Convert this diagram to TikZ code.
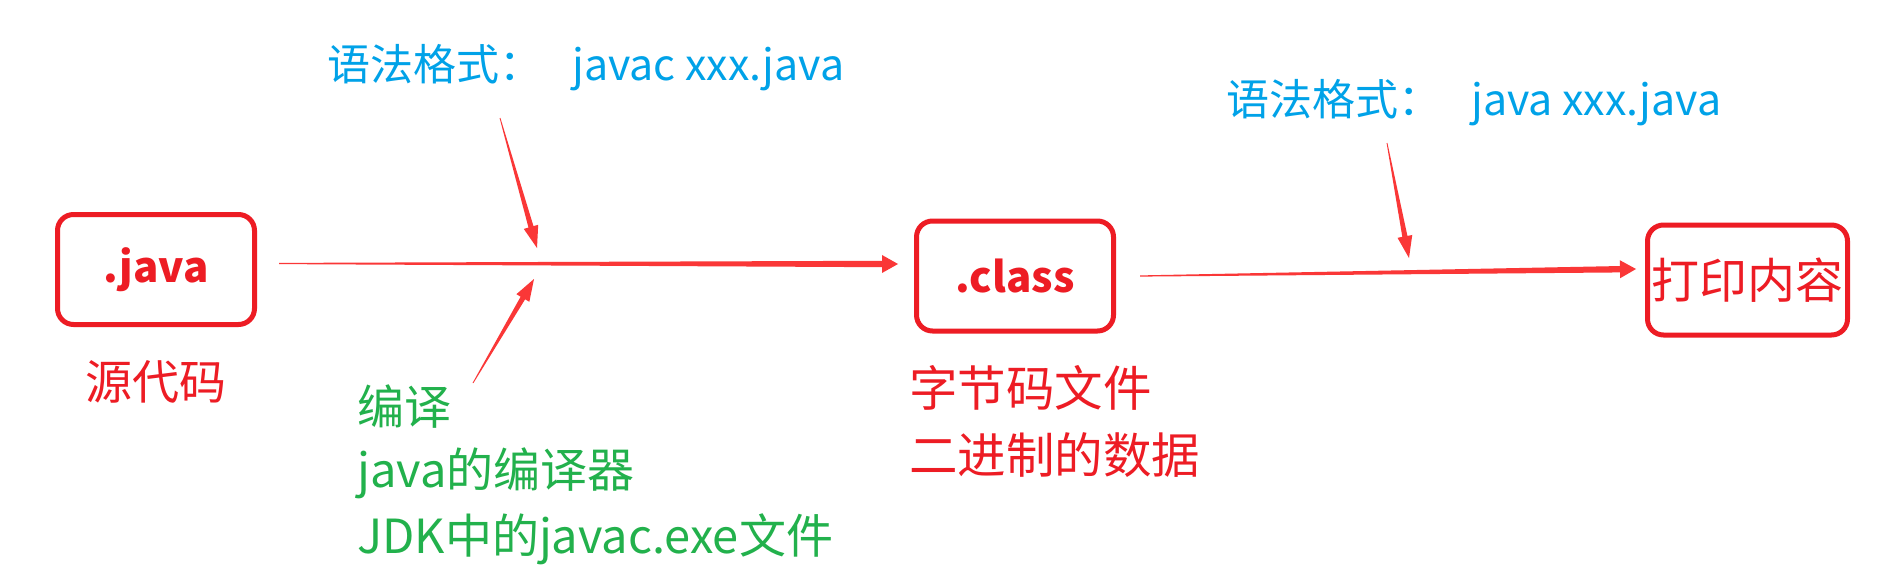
\documentclass[tikz,border=0pt]{standalone}
\usepackage{fontspec}
\setmainfont{Noto Sans CJK SC}
\usetikzlibrary{calc}
\definecolor{boxred}{RGB}{237,28,36}
\definecolor{arrred}{RGB}{250,55,55}
\definecolor{blu}{RGB}{0,162,232}
\definecolor{grn}{RGB}{34,177,76}
\newcommand\taperarrow[6]{%
  \path ($(#2)!#5!(#1)$) coordinate (tmpH);
  \fill[arrred] ($(#1)!#3!90:(#2)$) -- ($(tmpH)!#4!-90:(#1)$) -- ($(tmpH)!#6!-90:(#1)$) -- (#2)
    -- ($(tmpH)!#6!90:(#1)$) -- ($(tmpH)!#4!90:(#1)$) -- ($(#1)!#3!-90:(#2)$) -- cycle;}
\tikzset{
  rbox/.style={draw=boxred, line width=5pt, rounded corners=16pt, minimum width=197pt,
    minimum height=110pt, inner sep=0pt, text=boxred},
  lbl/.style={anchor=west, inner sep=0pt, font=\fontsize{47}{47}\selectfont},
  syn/.style={anchor=west, inner sep=0pt, text=blu, font=\fontsize{43}{43}\selectfont},
}
\begin{document}
\begin{tikzpicture}[x=1pt,y=-1pt]
\useasboundingbox (0,0) rectangle (1900,579);
\fill[white] (0,0) rectangle (1900,579);
% boxes
\node[rbox, font=\bfseries\fontsize{42}{42}\selectfont] (java) at (156,269.5) {.java};
\node[rbox, font=\bfseries\fontsize{42}{42}\selectfont] (class) at (1015,276) {.class};
\node[rbox, minimum width=200pt, font=\fontsize{48}{48}\selectfont] (out) at (1747.5,280) {打印内容};
% labels
\node[lbl, text=boxred, anchor=center] (src) at (156,382) {源代码};
\node[lbl, text=boxred, font=\fontsize{48.5}{48.5}\selectfont] (bc1) at (909,388) {字节码文件};
\node[lbl, text=boxred, font=\fontsize{48.5}{48.5}\selectfont] (bc2) at (909,455) {二进制的数据};
\node[lbl, text=grn] (g1) at (357,407) {编译};
\node[lbl, text=grn] (g2) at (357,473) {java的编译器};
\node[lbl, text=grn] (g3) at (357,539) {JDK中的javac.exe文件};
\node[syn] (s1) at (327,68) {语法格式：\hspace{30pt}javac xxx.java};
\node[syn] (s2) at (1226,103) {语法格式：\hspace{30pt}java xxx.java};
% connector end points
\coordinate (a1s) at ($(java.east)+(22,-6)$);
\coordinate (a1e) at ($(class.west)+(-16,-12)$);
\coordinate (a2s) at ($(class.east)+(24,0)$);
\coordinate (a2e) at ($(out.west)+(-9,-11)$);
\coordinate (d1s) at (500,118);
\coordinate (d1e) at (537,248);
\coordinate (d2s) at (473,383);
\coordinate (d2e) at (534,279);
\coordinate (d3s) at (1387,143);
\coordinate (d3e) at (1409,258);
% arrows
\taperarrow{a1s}{a1e}{0.6pt}{3.2pt}{16pt}{9pt}
\taperarrow{a2s}{a2e}{0.6pt}{3.2pt}{16pt}{9pt}
\taperarrow{d1s}{d1e}{0.4pt}{2.6pt}{22pt}{7.5pt}
\taperarrow{d2s}{d2e}{0.4pt}{2.6pt}{22pt}{7.5pt}
\taperarrow{d3s}{d3e}{0.4pt}{2.6pt}{22pt}{7.5pt}
\end{tikzpicture}
\end{document}
